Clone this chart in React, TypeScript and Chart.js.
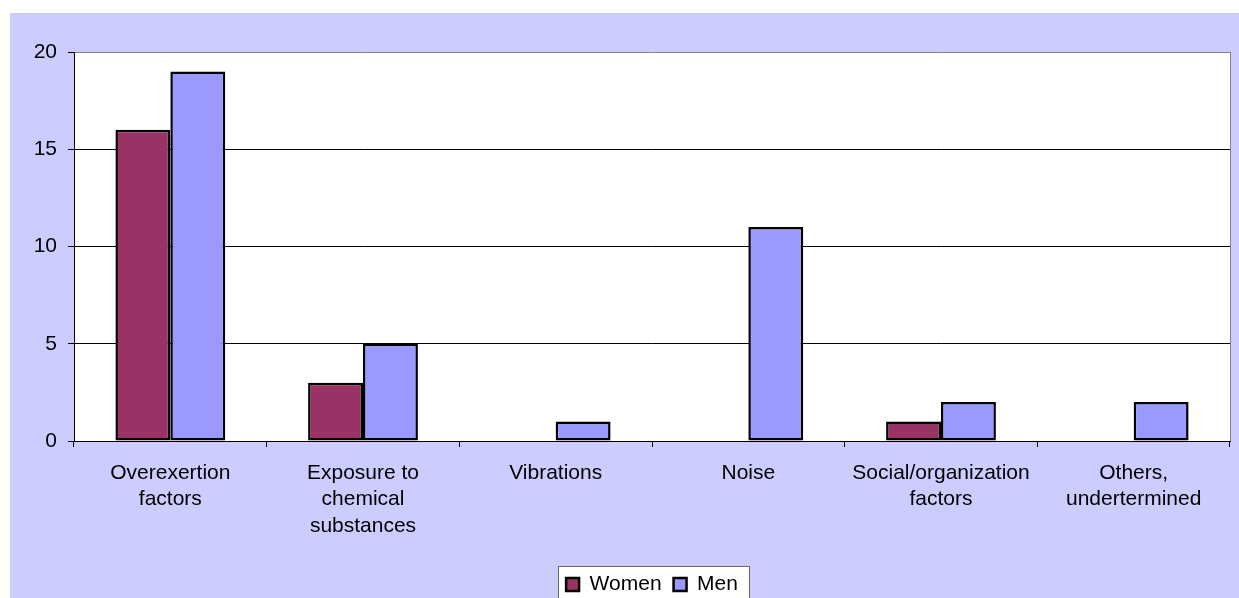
import React, { useEffect, useRef } from "react";
import { Chart, registerables } from "chart.js";

Chart.register(...registerables);

const categories: string[][] = [
  ["Overexertion", "factors"],
  ["Exposure to", "chemical", "substances"],
  ["Vibrations"],
  ["Noise"],
  ["Social/organization", "factors"],
  ["Others,", "undertermined"],
];
const womenValues = [16, 3, 0, 0, 1, 0];
const menValues = [19, 5, 1, 11, 2, 2];
const yTicks = [0, 5, 10, 15, 20];

const FONT = "'Liberation Sans', Arial, sans-serif";

const plotBgPlugin = {
  id: "plotBg",
  beforeDraw(chart: any) {
    const { ctx, chartArea } = chart;
    ctx.save();
    ctx.fillStyle = "#FFFFFF";
    ctx.fillRect(chartArea.left, chartArea.top, chartArea.right - chartArea.left, chartArea.bottom - chartArea.top);
    // legend box
    const lg = chart.legend;
    if (lg && lg.legendHitBoxes && lg.legendHitBoxes.length) {
      const boxes = lg.legendHitBoxes;
      let minX = Infinity, maxX = -Infinity, minY = Infinity;
      for (const b of boxes) {
        minX = Math.min(minX, b.left);
        maxX = Math.max(maxX, b.left + b.width);
        minY = Math.min(minY, b.top);
      }
      const x0 = Math.round(minX - 8) + 0.5;
      const x1 = Math.round(maxX + 11) + 0.5;
      const y0 = Math.round(minY - 8) + 0.5;
      ctx.fillStyle = "#FFFFFF";
      ctx.fillRect(x0, y0, x1 - x0, chart.height - y0 + 5);
      ctx.strokeStyle = "#666666";
      ctx.lineWidth = 1;
      ctx.strokeRect(x0, y0, x1 - x0, chart.height - y0 + 5);
    }
    ctx.restore();
  },
  beforeDatasetsDraw(chart: any) {
    const { ctx, chartArea } = chart;
    ctx.save();
    ctx.strokeStyle = "#808080";
    ctx.lineWidth = 1;
    ctx.beginPath();
    const r = Math.round(chartArea.right) + 0.5;
    ctx.moveTo(r, chartArea.top);
    ctx.lineTo(r, chartArea.bottom);
    ctx.stroke();
    ctx.restore();
  },
};

export default function App() {
  const ref = useRef<HTMLCanvasElement | null>(null);
  useEffect(() => {
    if (!ref.current) return;
    const chart = new Chart(ref.current, {
      type: "bar",
      data: {
        labels: categories,
        datasets: [
          {
            label: "Women",
            data: womenValues,
            backgroundColor: "#993366",
            borderColor: "#000000",
            borderWidth: 2.5,
            borderSkipped: false,
          },
          {
            label: "Men",
            data: menValues,
            backgroundColor: "#9999FF",
            borderColor: "#000000",
            borderWidth: 2.5,
            borderSkipped: false,
          },
        ],
      },
      options: {
        responsive: false,
        animation: false,
        layout: { padding: { top: 39, right: 9, left: 0, bottom: -7 } },
        datasets: { bar: { categoryPercentage: 0.57, barPercentage: 1 } },
        plugins: {
          tooltip: { enabled: false },
          legend: {
            position: "bottom",
            fullSize: false,
            labels: {
              color: "#000",
              font: { family: FONT, size: 21 },
              boxWidth: 13,
              boxHeight: 13,
              padding: 12,
            },
          },
        },
        scales: {
          x: {
            afterFit(scale: any) {
              scale.height = 121;
            },
            grid: {
              display: true,
              drawOnChartArea: false,
              drawTicks: true,
              tickLength: 6,
              color: "#000",
              offset: true,
            },
            border: { display: true, color: "#000", width: 1 },
            ticks: {
              autoSkip: false,
              maxRotation: 0,
              minRotation: 0,
              padding: 13,
              color: "#000",
              font: { family: FONT, size: 21, lineHeight: 1.26 },
            },
          },
          y: {
            min: 0,
            max: 20,
            afterFit(scale: any) {
              scale.width = 64;
            },
            afterBuildTicks(scale: any) {
              scale.ticks = yTicks.map((v) => ({ value: v }));
            },
            grid: {
              color: (c: any) => (c.tick && c.tick.value === 20 ? "#808080" : "#000"),
              tickLength: 6,
              lineWidth: 1,
              tickColor: "#000",
            },
            border: { display: true, color: "#000", width: 1 },
            ticks: {
              padding: 11,
              color: "#000",
              font: { family: FONT, size: 21 },
            },
          },
        },
      },
      plugins: [plotBgPlugin],
    });
    return () => chart.destroy();
  }, []);
  return (
    <div
      style={{
        position: "absolute",
        left: 10,
        top: 13,
        width: 1229,
        height: 585,
        background: "#CCCCFF",
        overflow: "hidden",
      }}
    >
      <canvas ref={ref} width={1229} height={585} style={{ display: "block" }} />
    </div>
  );
}
